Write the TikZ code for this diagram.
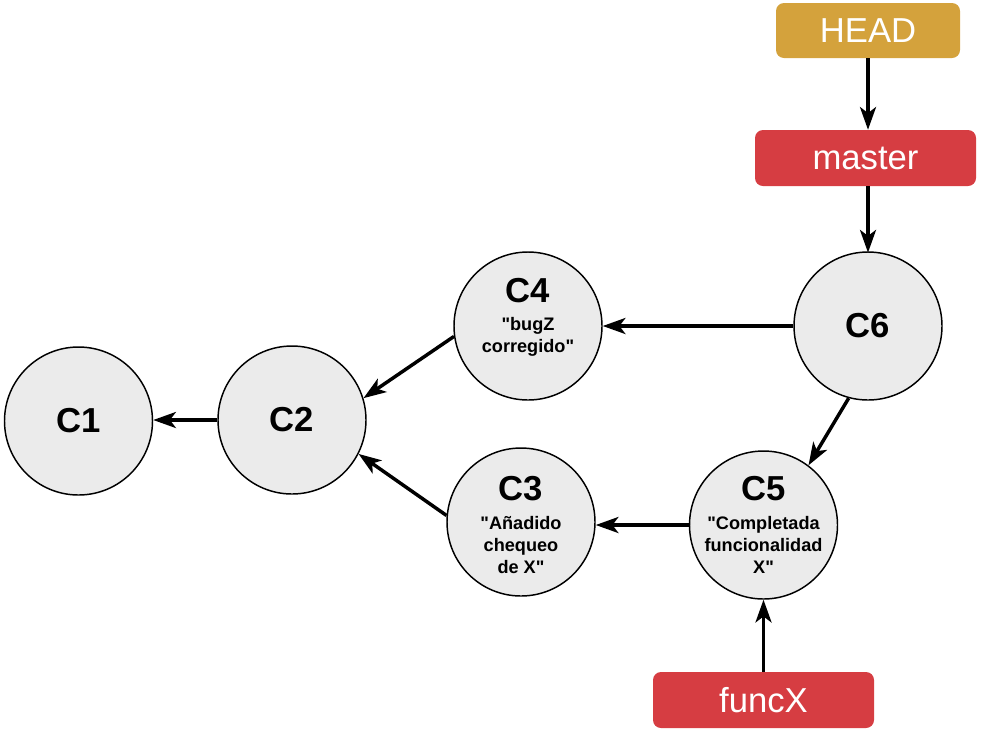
\documentclass[tikz,border=0pt]{standalone}
\usepackage{fontspec}
\setmainfont{Liberation Sans}[Ligatures=TeXOff]
\usetikzlibrary{arrows.meta}
\definecolor{headc}{HTML}{D4A23C}
\definecolor{redc}{HTML}{D63D42}
\definecolor{circc}{HTML}{EBEBEB}
\begin{document}
\begin{tikzpicture}[x=0.75pt,y=-0.75pt,
  commit/.style={circle,draw=black,line width=1.1pt,fill=circc,minimum size=148*0.75pt,inner sep=0pt},
  title/.style={font=\fontsize{26}{30}\selectfont\bfseries},
  msg/.style={font=\fontsize{13.6}{16.5}\selectfont\bfseries,align=center},
  ref/.style={rounded corners=6pt,text=white,font=\fontsize{26}{30}\selectfont,inner sep=0pt,minimum height=55*0.75pt},
  conn/.style={line width=2.6pt,-{Stealth[length=17pt,width=12pt,inset=4.5pt]}}]
\useasboundingbox (0,0) rectangle (981,733);
% commits
\node[commit] (c1) at (78.5,421) {};
\node[commit] (c2) at (292,420) {};
\node[commit] (c4) at (528,326) {};
\node[commit] (c6) at (868,326) {};
\node[commit] (c3) at (521,522) {};
\node[commit] (c5) at (763.5,525) {};
\node[title] (t1) at (78.5,421) {C1};
\node[title] (t2) at (292,420) {C2};
\node[title] (t6) at (868,326) {C6};
\node[title] (t4) at (528,291) {C4};
\node[msg] (m4) at (528,337) {"bugZ\\corregido"};
\node[title] (t3) at (521,489) {C3};
\node[msg] (m3) at (521,545) {"Añadido\\chequeo\\de X"};
\node[title] (t5) at (763.5,489) {C5};
\node[msg] (m5) at (763.5,545) {"Completada\\funcionalidad\\X"};
% refs
\node[ref,fill=headc,minimum width=184*0.75pt] (head) at (868,30.5) {HEAD};
\node[ref,fill=redc,minimum width=221*0.75pt,minimum height=56*0.75pt] (master) at (865.5,158) {master};
\node[ref,fill=redc,minimum width=221*0.75pt,minimum height=56*0.75pt] (funcx) at (763.5,700) {funcX};
% connectors
\draw[conn] (head.south -| c6) -- (master.north -| c6);
\draw[conn] (master.south -| c6) -- ([yshift=-1pt]c6.north);
\draw[conn] (c6.west) -- (c6.west -| c4.east);
\draw[conn] (c6.255) -- (c5.53);
\draw[conn] (c4.188) -- (c2.17);
\draw[conn] (c3.175) -- (c2.-27);
\draw[conn] (c2.west) -- (c2.west -| c1.east);
\draw[conn] (c5.180) -- (c5.180 -| c3.east);
\draw[conn] (funcx.north -| c5) -- (c5.south);
\end{tikzpicture}
\end{document}
